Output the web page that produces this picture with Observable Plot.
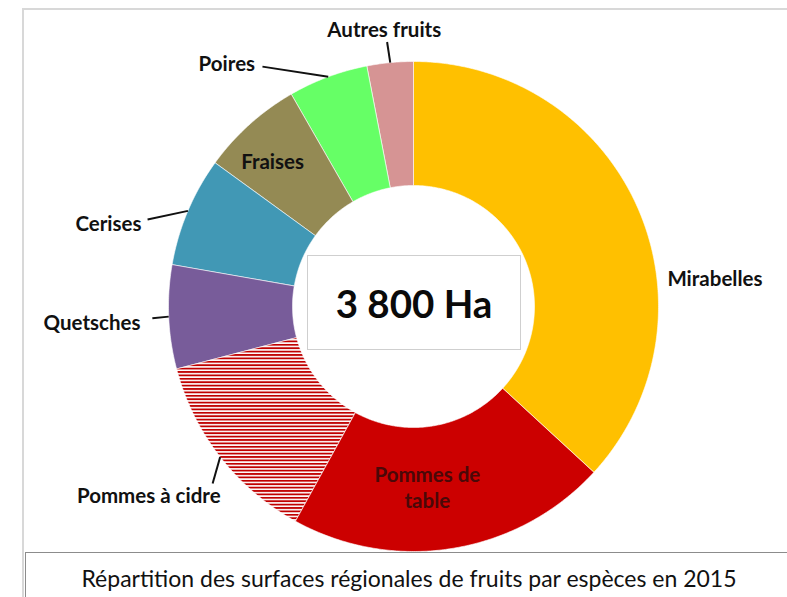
<!DOCTYPE html>
<html><head><meta charset="utf-8">
<script src="https://cdn.jsdelivr.net/npm/d3@7"></script>
<script src="https://cdn.jsdelivr.net/npm/@observablehq/plot@0.6"></script>
<style>
body{margin:0;background:#fff;}
#wrap{position:relative;width:787px;height:597px;overflow:hidden;font-family:Lato,sans-serif;}
#frame{position:absolute;left:22px;top:8px;width:800px;height:620px;border-left:2px solid #d8d8d8;border-top:2px solid #d8d8d8;}
#chart{position:absolute;left:0;top:0;}
#total{position:absolute;left:307px;top:255px;width:212px;height:93px;border:1px solid #cfcfcf;background:#fff;display:flex;align-items:center;justify-content:center;font-weight:700;font-size:38.5px;color:#0a0a0a;}
#title{position:absolute;left:25px;top:552px;width:800px;height:60px;border-left:1.5px solid #8c8c8c;border-top:1.5px solid #8c8c8c;background:#fff;}
#title span{position:absolute;left:0;width:766px;top:11px;text-align:center;font-size:23px;color:#111;white-space:nowrap;}
</style>
</head><body>
<div id="wrap">
  <div id="frame"></div>
  <div id="chart"></div>
  <div id="total"></div>
  <div id="title"><span>Répartition des surfaces régionales de fruits par espèces en 2015</span></div>
</div>
<script>
// ---- data ----
const categories = ["Mirabelles","Pommes de table","Pommes à cidre","Quetsches","Cerises","Fraises","Poires","Autres fruits"];
const hectares   = [1400, 805, 490, 260, 275, 255, 200, 115];
const colors     = ["#FFC000","#CC0000","url(#cidre)","#785C9A","#4198B5","#948A54","#66FF66","#D69494"];
const labelText  = ["Mirabelles","Pommes de\ntable","Pommes à cidre","Quetsches","Cerises","Fraises","Poires","Autres fruits"];

// ---- layout (not data) ----
const cx = 413, cy = 306, R = 245, innerRatio = 121 / 245;
const placement = [
  {angle: 83.5,  r: 1.043, anchor: "start"},
  {angle: 175.6, r: 0.737, anchor: "middle", color: "#4a0808"},
  {angle: 225.7, r: 1.10,  anchor: "end",    leader: {angle: 228.6, r: 1.093}},
  {angle: 266.9, r: 1.116, anchor: "end",    leader: {angle: 267.4, r: 1.067}},
  {angle: 287.2, r: 1.162, anchor: "end",    leader: {angle: 288.1, r: 1.142}},
  {angle: 316,   r: 0.828, anchor: "middle"},
  {angle: 327,   r: 1.187, anchor: "end",    leader: {angle: 327.8, r: 1.157}},
  {angle: 354,   r: 1.141, anchor: "middle", leader: {angle: 354.3, r: 1.085}}
];

const total = d3.sum(hectares);
document.getElementById("total").textContent =
  d3.format(",")(total).replace(/,/g, " ") + " Ha";

const arcs = d3.pie().sort(null).value(d => d)(hectares);
const rad = deg => deg * Math.PI / 180;

// slice outlines (outer arc then inner arc back)
const slices = [];
arcs.forEach((p, i) => {
  const n = Math.max(2, Math.ceil((p.endAngle - p.startAngle) / (Math.PI / 360)));
  for (let k = 0; k <= n; k++) {
    const a = p.startAngle + (p.endAngle - p.startAngle) * k / n;
    slices.push({name: categories[i], x: Math.sin(a), y: Math.cos(a)});
  }
  for (let k = n; k >= 0; k--) {
    const a = p.startAngle + (p.endAngle - p.startAngle) * k / n;
    slices.push({name: categories[i], x: innerRatio * Math.sin(a), y: innerRatio * Math.cos(a)});
  }
});

const labels = categories.map((name, i) => {
  const pl = placement[i];
  const mid = (arcs[i].startAngle + arcs[i].endAngle) / 2;
  const o = {
    name, text: labelText[i], anchor: pl.anchor, color: pl.color || "#111",
    x: pl.r * Math.sin(rad(pl.angle)), y: pl.r * Math.cos(rad(pl.angle))
  };
  if (pl.leader) {
    o.x1 = Math.sin(mid); o.y1 = Math.cos(mid);
    o.x2 = pl.leader.r * Math.sin(rad(pl.leader.angle));
    o.y2 = pl.leader.r * Math.cos(rad(pl.leader.angle));
  }
  return o;
});

const textMarks = ["start", "middle", "end"].map(anchor =>
  Plot.text(labels.filter(d => d.anchor === anchor), {
    x: "x", y: "y", text: "text", textAnchor: anchor, fill: d => d.color,
    fontFamily: "Lato", fontWeight: "bold", fontSize: 20.5, lineHeight: 1.3
  })
);

const chart = Plot.plot({
  width: 787, height: 552,
  style: {background: "none", overflow: "visible"},
  x: {domain: [-1, 1], range: [cx - R, cx + R], axis: null},
  y: {domain: [-1, 1], range: [cy + R, cy - R], axis: null},
  color: {domain: categories, range: colors},
  marks: [
    Plot.line(slices, {x: "x", y: "y", z: "name", fill: "name", stroke: "white", strokeWidth: 0.6, curve: "linear-closed"}),
    Plot.link(labels.filter(d => d.x1 !== undefined), {x1: "x1", y1: "y1", x2: "x2", y2: "y2", stroke: "#111", strokeWidth: 2}),
    ...textMarks
  ]
});

// stripe pattern for "Pommes à cidre"
const svg = d3.select(chart);
const pat = svg.insert("defs", ":first-child").append("pattern")
  .attr("id", "cidre").attr("patternUnits", "userSpaceOnUse")
  .attr("width", 10).attr("height", 3.4);
pat.append("rect").attr("width", 10).attr("height", 3.4).attr("fill", "#fff");
pat.append("rect").attr("width", 10).attr("height", 1.8).attr("fill", "#C00000");

document.getElementById("chart").appendChild(chart);
</script>
</body></html>
